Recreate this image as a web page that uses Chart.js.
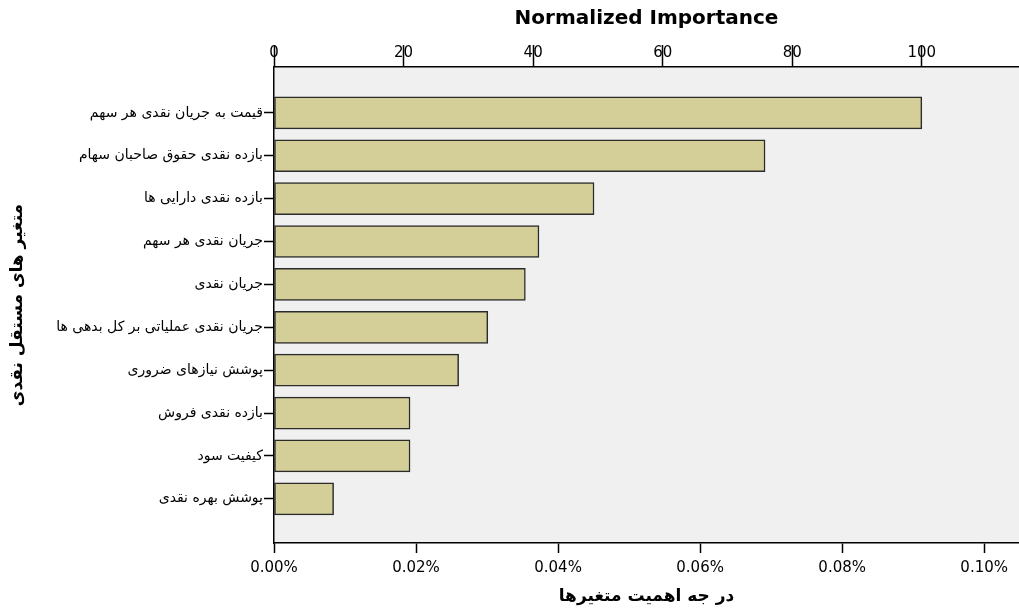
<!DOCTYPE html>
<html>
<head>
<meta charset="utf-8">
<script src="https://cdn.jsdelivr.net/npm/chart.js@4.4.1/dist/chart.umd.min.js"></script>
<style>
body{margin:0;background:#fff;}
#wrap{width:1019px;height:608px;}
</style>
</head>
<body>
<div id="wrap"><canvas id="c" width="1019" height="608"></canvas></div>
<script>
// variables, top to bottom
const varNames = [
  'قیمت به جریان نقدی هر سهم',
  'بازده نقدی حقوق صاحبان سهام',
  'بازده نقدی دارایی ها',
  'جریان نقدی هر سهم',
  'جریان نقدی',
  'جریان نقدی عملیاتی بر کل بدهی ها',
  'پوشش نیازهای ضروری',
  'بازده نقدی فروش',
  'کیفیت سود',
  'پوشش بهره نقدی'
];
// normalized importance (top axis)
const normImp = [100, 75.8, 49.4, 40.9, 38.8, 33.0, 28.5, 21.0, 21.0, 9.2];
const normTicks = [0, 20, 40, 60, 80, 100];
const normMax = 115;
// importance in percent (bottom axis)
const pctTicks = [0, 0.02, 0.04, 0.06, 0.08, 0.10];
const pctMax = 0.1049;

const titleTop = 'Normalized Importance';
const titleBottom = 'در جه اهمیت متغیرها';
const titleLeft = 'متغیر های مستقل نقدی';

const LEFT = 274, TOP = 67, BOTTOM = 543, H = 608;

const bgPlug = {
  id: 'bg',
  beforeDraw(ch) {
    const a = ch.chartArea, c = ch.ctx;
    c.save();
    c.fillStyle = '#f0f0f0';
    c.fillRect(a.left, a.top, a.right - a.left, a.bottom - a.top);
    c.restore();
  }
};

const tickFont = {family: 'DejaVu Sans', size: 15};

new Chart(document.getElementById('c'), {
  type: 'bar',
  data: {
    datasets: [{
      data: normImp.map((v, i) => ({x: v, y: i})),
      backgroundColor: '#d4cf99',
      borderColor: '#2b2b2b',
      borderWidth: 1.5,
      borderSkipped: false,
      barThickness: 32,
      xAxisID: 'x',
      yAxisID: 'y'
    }]
  },
  plugins: [bgPlug],
  options: {
    indexAxis: 'y',
    responsive: false,
    animation: false,
    layout: {padding: {left: 0, right: 0, top: 0, bottom: 0}},
    plugins: {legend: {display: false}, tooltip: {enabled: false}},
    scales: {
      y: {
        type: 'linear',
        reverse: true,
        offset: false,
        min: -1.07,
        max: 10.03,
        afterBuildTicks: s => { s.ticks = varNames.map((_, i) => ({value: i})); },
        afterFit: s => { s.width = LEFT; },
        ticks: {
          autoSkip: false,
          color: '#000',
          padding: 1,
          font: {family: 'DejaVu Sans', size: 14},
          callback: v => varNames[v] || ''
        },
        grid: {drawOnChartArea: false, offset: false, tickLength: 10, color: '#000', tickWidth: 1.5},
        border: {color: '#000', width: 1.5},
        title: {display: true, text: titleLeft, color: '#000',
          font: {family: 'DejaVu Sans', size: 17, weight: 'bold'}, padding: {top: 7, bottom: 0}}
      },
      x: {
        position: 'top',
        min: 0,
        max: normMax,
        afterBuildTicks: s => { s.ticks = normTicks.map(v => ({value: v})); },
        afterFit: s => { s.height = TOP; },
        ticks: {color: '#000', font: tickFont, padding: -17, maxRotation: 0},
        grid: {drawOnChartArea: false, tickLength: 22, color: '#000', tickWidth: 1.5},
        border: {color: '#000', width: 1.5},
        title: {display: true, text: titleTop, color: '#000',
          font: {family: 'DejaVu Sans', size: 20, weight: 'bold'}, padding: {top: 7, bottom: 0}}
      },
      x2: {
        position: 'bottom',
        min: 0,
        max: pctMax,
        afterBuildTicks: s => { s.ticks = pctTicks.map(v => ({value: v})); },
        afterFit: s => { s.height = H - BOTTOM; },
        ticks: {color: '#000', font: tickFont, padding: 6, maxRotation: 0,
          callback: v => v.toFixed(2) + '%'},
        grid: {drawOnChartArea: false, tickLength: 10, color: '#000', tickWidth: 1.5},
        border: {color: '#000', width: 1.5},
        title: {display: true, text: titleBottom, color: '#000',
          font: {family: 'DejaVu Sans', size: 17, weight: 'bold'}, padding: {top: 0, bottom: 1}}
      }
    }
  }
});
</script>
</body>
</html>
